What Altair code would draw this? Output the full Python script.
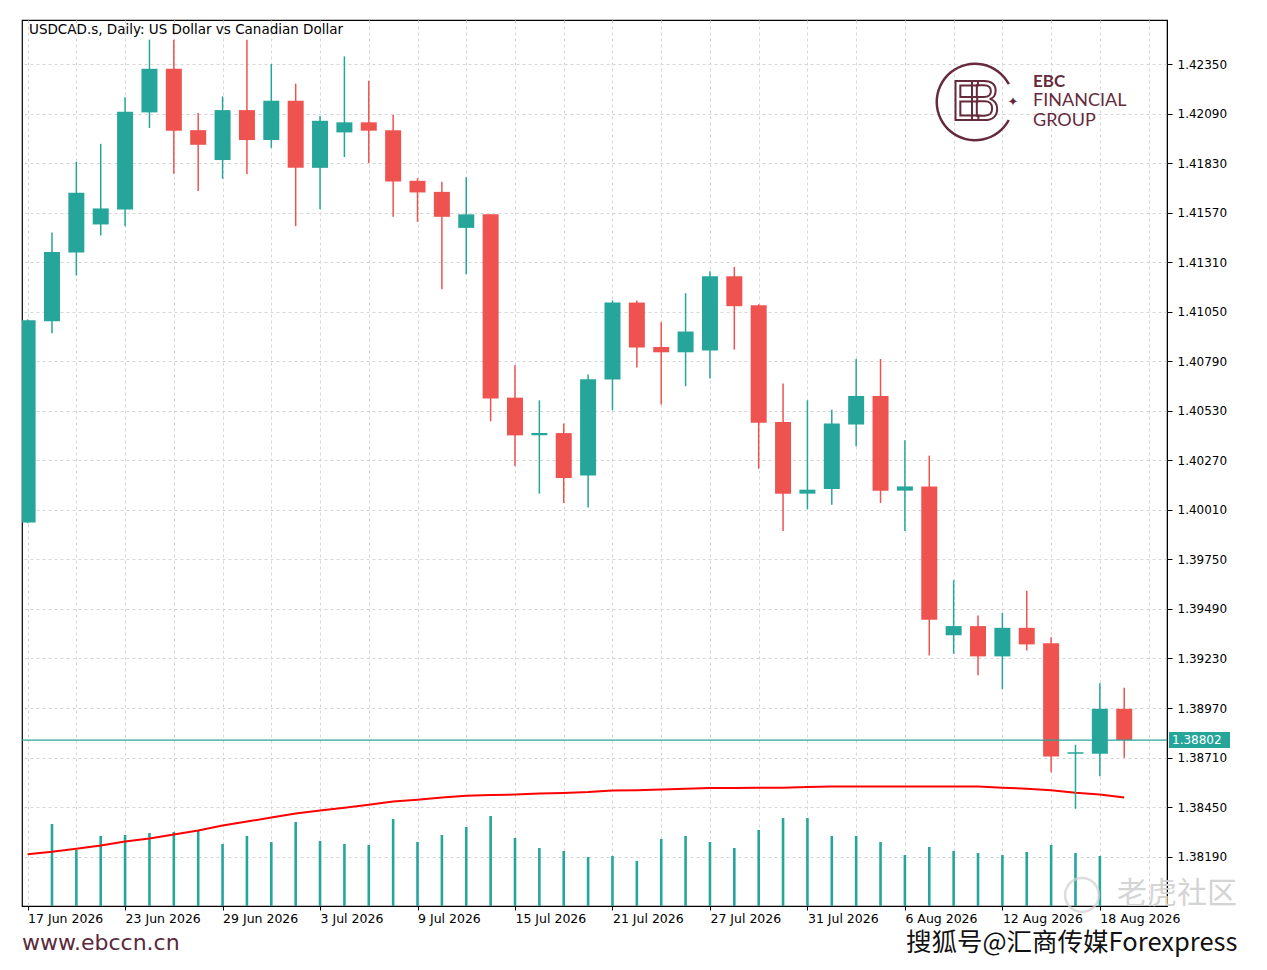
import altair as alt
import pandas as pd

# ---------------- data ----------------
dates = ["17 Jun 2026", "18 Jun 2026", "19 Jun 2026", "22 Jun 2026", "23 Jun 2026",
         "24 Jun 2026", "25 Jun 2026", "26 Jun 2026", "29 Jun 2026", "30 Jun 2026",
         "1 Jul 2026", "2 Jul 2026", "3 Jul 2026", "6 Jul 2026", "7 Jul 2026",
         "8 Jul 2026", "9 Jul 2026", "10 Jul 2026", "13 Jul 2026", "14 Jul 2026",
         "15 Jul 2026", "16 Jul 2026", "17 Jul 2026", "20 Jul 2026", "21 Jul 2026",
         "22 Jul 2026", "23 Jul 2026", "24 Jul 2026", "27 Jul 2026", "28 Jul 2026",
         "29 Jul 2026", "30 Jul 2026", "31 Jul 2026", "3 Aug 2026", "4 Aug 2026",
         "5 Aug 2026", "6 Aug 2026", "7 Aug 2026", "10 Aug 2026", "11 Aug 2026",
         "12 Aug 2026", "13 Aug 2026", "14 Aug 2026", "17 Aug 2026", "18 Aug 2026",
         "19 Aug 2026"]

opens = [1.39944, 1.41000, 1.41361, 1.41508, 1.41587, 1.42096, 1.42325, 1.42003, 1.41846, 1.42108,
         1.41951, 1.42157, 1.41805, 1.41991, 1.42044, 1.42003, 1.41737, 1.41679, 1.41490, 1.41561,
         1.40599, 1.40401, 1.40413, 1.40191, 1.40694, 1.41098, 1.40865, 1.40837, 1.40846, 1.41236,
         1.41084, 1.40471, 1.40095, 1.40119, 1.40458, 1.40608, 1.40111, 1.40133, 1.39352, 1.39400,
         1.39241, 1.39391, 1.39310, 1.38730, 1.38730, 1.38966]
highs = [1.41010, 1.41466, 1.41837, 1.41931, 1.42175, 1.42478, 1.42478, 1.42093, 1.42180, 1.42478,
         1.42350, 1.42247, 1.42077, 1.42390, 1.42262, 1.42084, 1.41751, 1.41732, 1.41756, 1.41561,
         1.40769, 1.40585, 1.40463, 1.40720, 1.41109, 1.41109, 1.40996, 1.41147, 1.41263, 1.41285,
         1.41089, 1.40673, 1.40585, 1.40536, 1.40802, 1.40802, 1.40375, 1.40295, 1.39641, 1.39456,
         1.39470, 1.39586, 1.39342, 1.38777, 1.39100, 1.39076]
lows = [1.39940, 1.40937, 1.41240, 1.41450, 1.41498, 1.42014, 1.41774, 1.41683, 1.41748, 1.41772,
        1.41910, 1.41499, 1.41588, 1.41862, 1.41830, 1.41548, 1.41522, 1.41168, 1.41247, 1.40475,
        1.40240, 1.40095, 1.40046, 1.40022, 1.40533, 1.40757, 1.40563, 1.40659, 1.40699, 1.40851,
        1.40226, 1.39899, 1.40013, 1.40037, 1.40344, 1.40046, 1.39899, 1.39246, 1.39255, 1.39142,
        1.39069, 1.39272, 1.38633, 1.38441, 1.38612, 1.38709]
closes = [1.41005, 1.41364, 1.41674, 1.41592, 1.42099, 1.42325, 1.42000, 1.41926, 1.42108, 1.41951,
          1.42157, 1.41805, 1.42052, 1.42044, 1.42000, 1.41734, 1.41676, 1.41548, 1.41561, 1.40594,
          1.40401, 1.40413, 1.40177, 1.40695, 1.41098, 1.40862, 1.40837, 1.40946, 1.41236, 1.41079,
          1.40467, 1.40095, 1.40116, 1.40463, 1.40608, 1.40111, 1.40133, 1.39433, 1.39400, 1.39241,
          1.39391, 1.39304, 1.38715, 1.38738, 1.38966, 1.38802]
moving_avg = [1.38203, 1.38216, 1.38232, 1.38248, 1.38269, 1.38285, 1.38306, 1.38327, 1.38353, 1.38374,
              1.38395, 1.38416, 1.38432, 1.38447, 1.38463, 1.38479, 1.38489, 1.38500, 1.38510, 1.38513,
              1.38516, 1.38521, 1.38524, 1.38529, 1.38537, 1.38539, 1.38542, 1.38547, 1.38550, 1.38550,
              1.38552, 1.38552, 1.38555, 1.38558, 1.38558, 1.38558, 1.38558, 1.38558, 1.38558, 1.38558,
              1.38552, 1.38547, 1.38539, 1.38526, 1.38516, 1.38500]
volumes = [None, 82, 56, 70, 71, 73, 74, 76, 62, 70, 64, 84, 65, 62, 61, 87, 64, 71, 79, 90,
           68, 58, 55, 49, 50, 45, 67, 70, 64, 58, 76, 88, 88, 70, 70, 64, 51, 59, 55, 53,
           51, 54, 61, 53, 50, None]

y_ticks = [1.38190, 1.38450, 1.38710, 1.38970, 1.39230, 1.39490, 1.39750, 1.40010, 1.40270,
           1.40530, 1.40790, 1.41050, 1.41310, 1.41570, 1.41830, 1.42090, 1.42350]
current_price = 1.38802
title_text = "USDCAD.s, Daily:  US Dollar vs Canadian Dollar"

# ---------------- styling ----------------
TEAL = "#26a69a"
RED = "#ef5350"
MAROON = "#652a3c"
FONT = "DejaVu Sans"
W, H = 1145, 886

df = pd.DataFrame({"i": list(range(len(dates))), "date": dates, "open": opens, "high": highs,
                   "low": lows, "close": closes, "ma": moving_avg, "vol": volumes})
df["dir"] = ["up" if c >= o else "down" for o, c in zip(opens, closes)]

xscale = alt.Scale(domain=[-0.025, 46.55], nice=False, zero=False)
yscale = alt.Scale(domain=[1.37931, 1.42581], nice=False, zero=False)
color = alt.Color("dir:N", scale=alt.Scale(domain=["up", "down"], range=[TEAL, RED]), legend=None)

label_js = "[" + ",".join("'" + d + "'" for d in dates) + "]"
x_axis = alt.Axis(
    values=list(range(0, 47, 2)), grid=True, gridColor="#d6d6d6", gridDash=[3, 3],
    labelExpr="datum.value % 4 == 0 ? " + label_js + "[datum.value] : ''",
    labelAlign="left", labelBaseline="top", labelFont=FONT, labelFontSize=12.5, labelColor="#000",
    labelPadding=2, labelOverlap=False, labelBound=False, labelFlush=False,
    tickColor="#000", tickSize=4,
    tickOpacity={"condition": {"test": "datum.value % 4 === 0", "value": 1}, "value": 0},
    domainColor="#000", title=None)
y_axis = alt.Axis(
    orient="right", values=y_ticks, format=".5f", grid=True, gridColor="#d6d6d6", gridDash=[3, 3],
    tickColor="#000", tickSize=5, domainColor="#000", labelColor="#000", labelFont=FONT,
    labelFontSize=12, labelPadding=5, title=None)

base = alt.Chart(df)
X = alt.X("i:Q", scale=xscale, title=None)

wicks = base.mark_rule(strokeWidth=1.5, clip=True).encode(
    x=alt.X("i:Q", scale=xscale, axis=x_axis, title=None),
    y=alt.Y("low:Q", scale=yscale, axis=y_axis, title=None), y2="high:Q", color=color)
bodies = base.mark_bar(size=16, orient="vertical", clip=True).encode(
    x=X, y=alt.Y("open:Q", scale=yscale, title=None), y2="close:Q", color=color)
ma_line = base.mark_line(color="#ff0000", strokeWidth=2, clip=True).encode(
    x=X, y=alt.Y("ma:Q", scale=yscale, title=None))

pdf = pd.DataFrame({"p": [current_price]})
price_line = alt.Chart(pdf).mark_rule(color=TEAL, strokeWidth=1.3).encode(
    y=alt.Y("p:Q", scale=yscale, title=None))
price_box = alt.Chart(pdf).mark_rect(color=TEAL, yOffset=-8, y2Offset=8, clip=False).encode(
    x=alt.value(W + 2), x2=alt.value(W + 63), y=alt.Y("p:Q", scale=yscale, title=None), y2="p:Q")
price_txt = alt.Chart(pdf).mark_text(color="white", align="left", baseline="middle", font=FONT,
                                     fontSize=12, clip=False).encode(
    x=alt.value(W + 5), y=alt.Y("p:Q", scale=yscale, title=None), text=alt.Text("p:Q", format=".5f"))

def label(text, x, y, **kw):
    return alt.Chart(pd.DataFrame({"t": [text]})).mark_text(**kw).encode(
        x=alt.value(x), y=alt.value(y), text="t:N")

title = label(title_text, 7, 10, align="left", baseline="middle", font=FONT, fontSize=13.5, color="#000")

logo_ring = alt.Chart(pd.DataFrame({"t": [1]})).mark_arc(
    radius=39.5, radius2=37, theta=2.06, theta2=7.37, color=MAROON).encode(
    x=alt.value(953), y=alt.value(82))
logo_e = label("E", 944, 84, align="center", baseline="middle", font="DejaVu Sans Condensed",
               fontSize=54, fillOpacity=0, stroke=MAROON, strokeWidth=2)
logo_b = label("B", 962, 84, align="center", baseline="middle", font="DejaVu Sans Condensed",
               fontSize=54, fillOpacity=0, stroke=MAROON, strokeWidth=2)
logo_star = label("\u2726", 991, 82, align="center", baseline="middle", font=FONT, fontSize=13,
                  color=MAROON)
logo_t1 = label("EBC", 1011, 62, align="left", baseline="middle", font="Lato", fontSize=17,
                fontWeight="bold", color=MAROON)
logo_t2 = label("FINANCIAL", 1011, 81, align="left", baseline="middle", font="Lato", fontSize=18,
                color=MAROON)
logo_t3 = label("GROUP", 1011, 101, align="left", baseline="middle", font="Lato", fontSize=18,
                color=MAROON)

site = label("www.ebccn.cn", 0, 923, align="left", baseline="middle", font=FONT, fontSize=22,
             color="#5a2a3a")
tiger_ring = alt.Chart(pd.DataFrame({"t": [1]})).mark_point(
    shape="circle", size=1150, filled=False, color="#d0d0d0", strokeWidth=2.5).encode(
    x=alt.value(1060), y=alt.value(875))
tiger = label("老虎社区", 1095, 874, align="left", baseline="middle", font="Noto Sans CJK SC",
              fontSize=30, color="#d4d4d4")
sohu = label("搜狐号@汇商传媒Forexpress", 884, 923, align="left", baseline="middle",
             font="Noto Sans CJK SC", fontSize=25.5, color="#111")

volume = base.mark_bar(size=2.6, orient="vertical", color=TEAL, clip=True).encode(
    x=X, y=alt.Y("vol:Q", scale=alt.Scale(domain=[0, H], nice=False, zero=True), axis=None, title=None))

price_layers = alt.layer(ma_line, wicks, bodies, price_line, price_box, price_txt, title,
                         logo_ring, logo_e, logo_b, logo_star, logo_t1, logo_t2, logo_t3,
                         tiger_ring, tiger, site, sohu)

chart = alt.layer(volume, price_layers).resolve_scale(y="independent").properties(
    width=W, height=H, padding={"left": 14, "top": 12, "right": 88, "bottom": 53},
    autosize=alt.AutoSizeParams(type="none"),
    background="white"
).configure_view(stroke="#000", strokeWidth=1.2)

chart.save("out.html", embed_options={"renderer": "svg", "actions": False})
